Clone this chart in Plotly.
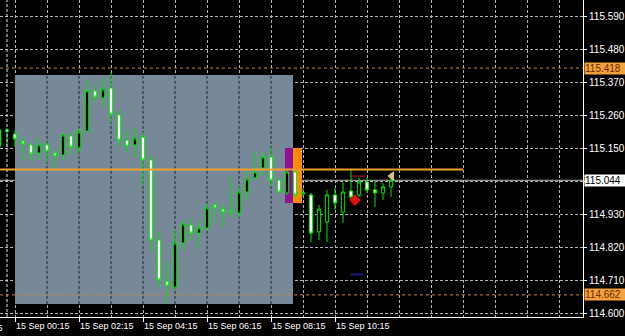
import plotly.graph_objects as go

# ---------------- data (15-minute bars, index 0 = 15 Sep 00:15) ----------------
first_bar = -2
opens = [115.212, 115.212, 115.198, 115.175, 115.162, 115.135, 115.162, 115.135, 115.128, 115.192,
         115.152, 115.208, 115.342, 115.318, 115.352, 115.262, 115.178, 115.162, 115.188, 115.112,
         114.845, 114.708, 114.688, 114.835, 114.895, 114.868, 114.885, 114.962, 114.948, 114.942,
         114.935, 115.005, 115.052, 115.085, 115.122, 115.045, 115.002, 115.072, 114.998, 114.995,
         114.872, 114.905, 114.995, 114.938, 115.008, 114.995, 115.038, 115.012, 115.002, 115.022]
highs = [115.222, 115.218, 115.212, 115.188, 115.172, 115.185, 115.172, 115.145, 115.205, 115.205,
         115.218, 115.378, 115.362, 115.388, 115.402, 115.278, 115.212, 115.218, 115.205, 115.128,
         114.872, 114.772, 114.878, 114.912, 114.918, 114.905, 114.965, 114.972, 114.965, 115.055,
         115.025, 115.078, 115.138, 115.138, 115.152, 115.052, 115.078, 115.078, 115.018, 115.002,
         114.962, 115.012, 115.018, 115.038, 115.078, 115.052, 115.052, 115.045, 115.035, 115.068]
lows = [115.145, 115.155, 115.155, 115.112, 115.112, 115.112, 115.102, 115.085, 115.112, 115.128,
        115.135, 115.202, 115.302, 115.288, 115.235, 115.155, 115.135, 115.118, 115.028, 114.805,
        114.688, 114.635, 114.678, 114.812, 114.845, 114.822, 114.875, 114.902, 114.888, 114.922,
        114.918, 114.978, 115.042, 115.058, 115.025, 115.002, 114.995, 114.985, 114.988, 114.838,
        114.845, 114.838, 114.945, 114.902, 114.978, 114.988, 115.002, 114.955, 114.978, 114.988]
closes = [115.158, 115.208, 115.182, 115.165, 115.132, 115.162, 115.142, 115.125, 115.195, 115.155,
          115.205, 115.342, 115.322, 115.348, 115.265, 115.178, 115.158, 115.185, 115.112, 114.845,
          114.712, 114.692, 114.835, 114.898, 114.868, 114.885, 114.952, 114.952, 114.938, 114.938,
          115.005, 115.048, 115.072, 115.122, 115.045, 115.005, 115.072, 114.995, 115.002, 114.868,
          114.948, 114.995, 114.968, 115.005, 114.988, 115.038, 115.012, 115.002, 115.022, 115.044]
bars = [first_bar + k for k in range(len(opens))]

time_tick_bars = [0, 8, 16, 24, 32, 40]
time_tick_labels = ["15 Sep 00:15", "15 Sep 02:15", "15 Sep 04:15",
                    "15 Sep 06:15", "15 Sep 08:15", "15 Sep 10:15"]
cut_label = "14 Sep 22:15"

price_ticks = [115.590, 115.480, 115.370, 115.260, 115.150, 115.040, 114.930, 114.820, 114.710, 114.600]
price_labels = ["115.590", "115.480", "115.370", "115.260", "115.150", "", "114.930", "114.820", "114.710", "114.600"]

bid_price = 115.044
level_high = 115.418
level_low = 114.662
level_mid = 115.080
mid_line_end = 56

box_bars = [0, 34.75]
box_prices = [114.632, 115.395]
purple_zone = [33.75, 34.75]
orange_zone = [34.75, 35.875]
zone_prices = [114.968, 115.152]
separator_bar = -1

sell_marker = (42.5, 114.978)
sell_dash = (42.9, 115.058)
close_marker = (47.1, 115.058)
blue_dash = (42.75, 114.730)

x_range = [-1.875, 71]
y_range = [114.5883, 115.645]

GREEN = "#00E600"
FONT = "Liberation Sans"

fig = go.Figure()
fig.add_trace(go.Candlestick(
    x=bars, open=opens, high=highs, low=lows, close=closes,
    increasing=dict(line=dict(color=GREEN, width=1), fillcolor="black"),
    decreasing=dict(line=dict(color=GREEN, width=1), fillcolor="white"),
    whiskerwidth=0, showlegend=False, hoverinfo="skip"))

# trade line and markers
fig.add_trace(go.Scatter(x=[sell_marker[0], close_marker[0]], y=[sell_marker[1], close_marker[1]],
                         mode="lines", line=dict(color="#902020", width=1, dash="dot"),
                         showlegend=False, hoverinfo="skip"))
fig.add_trace(go.Scatter(x=[sell_dash[0]], y=[sell_dash[1]], mode="markers",
                         marker=dict(symbol="line-ew", size=10, line=dict(color="#C02020", width=1)),
                         showlegend=False, hoverinfo="skip"))
fig.add_trace(go.Scatter(x=[sell_marker[0]], y=[sell_marker[1]], mode="markers",
                         marker=dict(symbol="diamond", size=9, color="#E01010"),
                         showlegend=False, hoverinfo="skip"))
fig.add_trace(go.Scatter(x=[close_marker[0]], y=[close_marker[1]], mode="markers",
                         marker=dict(symbol="triangle-left", size=9, color="#D8C07A"),
                         showlegend=False, hoverinfo="skip"))
fig.add_trace(go.Scatter(x=[blue_dash[0]], y=[blue_dash[1]], mode="markers",
                         marker=dict(symbol="line-ew", size=9, line=dict(color="#1E1E78", width=2)),
                         showlegend=False, hoverinfo="skip"))

shapes = []
# bid line
shapes.append(dict(type="line", xref="paper", x0=0, x1=1, yref="y", y0=bid_price, y1=bid_price,
                   line=dict(color="#B8B8B8", width=1), layer="between"))
# gray rectangle
shapes.append(dict(type="rect", xref="x", yref="y", x0=box_bars[0], x1=box_bars[1],
                   y0=box_prices[0], y1=box_prices[1], fillcolor="#778899",
                   line=dict(width=0), layer="between"))
# dark grid over rectangle
for b in range(4, 34, 4):
    shapes.append(dict(type="line", xref="x", yref="y", x0=b, x1=b, y0=box_prices[0], y1=box_prices[1],
                       line=dict(color="#202428", width=1, dash="3px,2px"), layer="between"))
# zones
shapes.append(dict(type="rect", xref="x", yref="y", x0=purple_zone[0], x1=purple_zone[1],
                   y0=zone_prices[0], y1=zone_prices[1], fillcolor="#8E1196",
                   line=dict(width=0), layer="between"))
shapes.append(dict(type="rect", xref="x", yref="y", x0=orange_zone[0], x1=orange_zone[1],
                   y0=zone_prices[0], y1=zone_prices[1], fillcolor="#FF8C00",
                   line=dict(width=0), layer="between"))
# period separator
shapes.append(dict(type="line", xref="x", yref="paper", x0=separator_bar, x1=separator_bar, y0=0, y1=1,
                   line=dict(color="#E8E8E8", width=1, dash="3px,2px"), layer="above"))
# levels
shapes.append(dict(type="line", xref="paper", x0=0, x1=1, yref="y", y0=level_high, y1=level_high,
                   line=dict(color="#C8842E", width=1, dash="3px,3px"), layer="above"))
shapes.append(dict(type="line", xref="paper", x0=0, x1=1, yref="y", y0=level_low, y1=level_low,
                   line=dict(color="#C8842E", width=1, dash="3px,3px"), layer="above"))
shapes.append(dict(type="line", xref="x", x0=x_range[0], x1=mid_line_end, yref="y",
                   y0=level_mid, y1=level_mid,
                   line=dict(color="#F0A030", width=2), layer="above"))

annotations = []
for val, bg, fg in [(level_high, "#F4A13A", "#6A2A00"), (bid_price, "#FFFFFF", "#000000"),
                    (level_low, "#F4A13A", "#6A2A00")]:
    annotations.append(dict(xref="paper", x=1, xanchor="left", yref="y", y=val, yanchor="middle",
                            text=f"{val:.3f}", showarrow=False, bgcolor=bg, borderpad=0,
                            width=41, height=11, align="left", xshift=1,
                            font=dict(family=FONT, size=10, color=fg)))
annotations.append(dict(xref="paper", x=0, xanchor="right", yref="paper", y=0, yanchor="top",
                        text=cut_label, showarrow=False, xshift=5, yshift=-4,
                        font=dict(family=FONT, size=9, color="white")))

fig.update_layout(
    width=625, height=336, margin=dict(l=0, r=42, t=0, b=19),
    paper_bgcolor="black", plot_bgcolor="black",
    shapes=shapes, annotations=annotations, showlegend=False,
    boxgap=0.4,
    xaxis=dict(range=x_range, tickvals=time_tick_bars, ticktext=time_tick_labels,
               ticklabelposition="outside right", ticks="outside", ticklen=4, tickcolor="white",
               tickfont=dict(family=FONT, size=9, color="white"),
               showline=True, linecolor="white", linewidth=1,
               showgrid=True, gridcolor="#B4B4B4", griddash="3px,2px", gridwidth=1,
               minor=dict(tickvals=[b for b in range(4, 72, 4) if b not in time_tick_bars],
                          showgrid=True, gridcolor="#B4B4B4", griddash="3px,2px", ticks=""),
               zeroline=False, rangeslider=dict(visible=False), fixedrange=True),
    yaxis=dict(range=y_range, side="right", tickvals=price_ticks, ticktext=price_labels,
               ticks="outside", ticklen=3, tickcolor="white",
               tickfont=dict(family=FONT, size=10, color="white"),
               showline=True, linecolor="white", linewidth=1,
               showgrid=True, gridcolor="#B4B4B4", griddash="3px,2px", gridwidth=1,
               zeroline=False, fixedrange=True),
)

fig.write_html("out.html")
